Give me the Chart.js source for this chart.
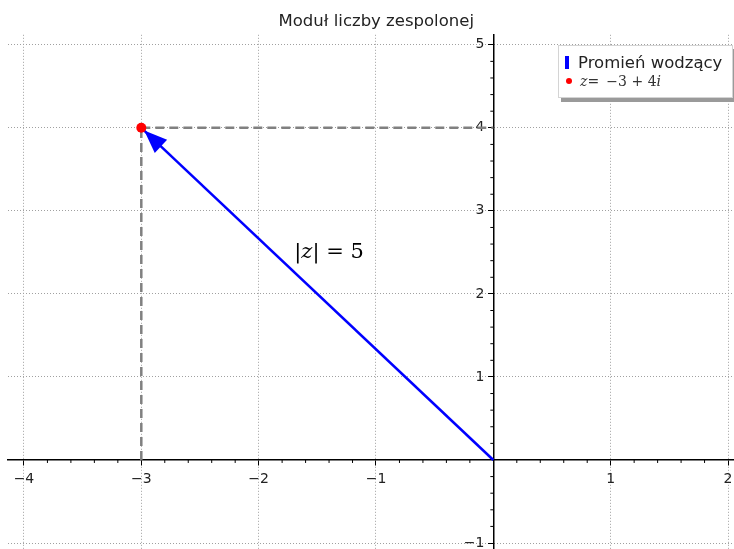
<!DOCTYPE html>
<html><head><meta charset="utf-8">
<script src="https://cdn.jsdelivr.net/npm/chart.js@4/dist/chart.umd.min.js"></script>
<style>
html,body{margin:0;padding:0;background:#fff;}
#wrap{position:relative;width:734px;height:549px;overflow:hidden;}
#legend{position:absolute;left:558px;top:45px;width:173px;height:51px;background:#fff;border:1px solid #d4d4d4;box-shadow:3px 4px 0 #9a9a9a;font-family:"DejaVu Sans",sans-serif;color:#222;}
#legend .r1{position:absolute;left:6px;top:7px;white-space:nowrap;font-size:16.5px;line-height:20px;}
#legend .sw{display:inline-block;width:4px;height:13px;background:#0000ff;vertical-align:-1px;margin-right:9px;}
#legend .r2{position:absolute;left:7px;top:26px;white-space:nowrap;font-size:14px;line-height:18px;font-family:"DejaVu Serif",serif;color:#333;}
#legend .dot{display:inline-block;width:6px;height:6px;border-radius:50%;background:#ff0000;margin-right:8px;vertical-align:2px;}
</style></head><body>
<div id="wrap"><canvas id="c" width="734" height="549"></canvas>
<div id="legend">
<div class="r1"><span class="sw"></span>Promień wodzący</div>
<div class="r2"><span class="dot"></span><i>z</i>= &thinsp;−3 + 4<i>i</i></div>
</div></div>
<script>
// ---- data ----
const vectorX = [0, -3];
const vectorY = [0, 4];
const dashVertX = [-3, -3];
const dashVertY = [0, 4];
const dashHorX = [-3, 0];
const dashHorY = [4, 4];
const pointX = [-3];
const pointY = [4];
const xTicks = [-4, -3, -2, -1, 0, 1, 2];
const yTicks = [-1, 0, 1, 2, 3, 4, 5];
const modulusLabelPos = [-1.4, 2.5];
const titleText = 'Moduł liczby zespolonej';

const zip = (xs, ys) => xs.map((v, i) => ({x: v, y: ys[i]}));
const fmt = v => v === 0 ? '' : (v < 0 ? '\u2212' + Math.abs(v) : String(v));

const minorTicks = {
  id: 'minorTicks',
  afterDatasetsDraw(chart) {
    const {ctx, scales: {x, y}} = chart;
    const x0 = x.getPixelForValue(0), y0 = y.getPixelForValue(0);
    ctx.save();
    ctx.strokeStyle = '#000';
    ctx.lineWidth = 1;
    for (let k = -45; k <= 25; k++) {
      if (k % 5 === 0) continue;
      const px = x.getPixelForValue(k / 5);
      if (px < x.left || px > x.right) continue;
      ctx.beginPath(); ctx.moveTo(px, y0); ctx.lineTo(px, y0 + 3); ctx.stroke();
    }
    for (let k = -10; k <= 30; k++) {
      if (k % 5 === 0) continue;
      const py = y.getPixelForValue(k / 5);
      if (py < y.top || py > y.bottom) continue;
      ctx.beginPath(); ctx.moveTo(x0, py); ctx.lineTo(x0 - 3, py); ctx.stroke();
    }
    ctx.restore();
  }
};

const arrowAndText = {
  id: 'arrowAndText',
  afterDatasetsDraw(chart) {
    const {ctx, scales: {x, y}} = chart;
    const p0 = {x: x.getPixelForValue(vectorX[0]), y: y.getPixelForValue(vectorY[0])};
    const p1 = {x: x.getPixelForValue(vectorX[1]), y: y.getPixelForValue(vectorY[1])};
    const dx = p1.x - p0.x, dy = p1.y - p0.y, L = Math.hypot(dx, dy);
    const ux = dx / L, uy = dy / L;
    const tip = {x: p1.x - ux * 4, y: p1.y - uy * 4};
    const base = {x: tip.x - ux * 23, y: tip.y - uy * 23};
    const hw = 9;
    ctx.save();
    ctx.fillStyle = '#0000ff';
    ctx.beginPath();
    ctx.moveTo(tip.x, tip.y);
    ctx.lineTo(base.x - uy * hw, base.y + ux * hw);
    ctx.lineTo(base.x + uy * hw, base.y - ux * hw);
    ctx.closePath();
    ctx.fill();
    // red point on top
    ctx.fillStyle = '#ff0000';
    ctx.beginPath();
    ctx.arc(x.getPixelForValue(pointX[0]), y.getPixelForValue(pointY[0]), 5, 0, Math.PI * 2);
    ctx.fill();
    // |z| = 5 label
    const cx = x.getPixelForValue(modulusLabelPos[0]);
    const cy = y.getPixelForValue(modulusLabelPos[1]);
    const parts = [['|', '21px "DejaVu Serif"'], ['z', 'italic 21px "DejaVu Serif"'], ['| = 5', '21px "DejaVu Serif"']];
    let total = 0;
    parts.forEach(p => { ctx.font = p[1]; total += ctx.measureText(p[0]).width; });
    let cur = cx - total / 2;
    ctx.fillStyle = '#000';
    ctx.textBaseline = 'middle';
    parts.forEach(p => { ctx.font = p[1]; ctx.fillText(p[0], cur, cy); cur += ctx.measureText(p[0]).width; });
    ctx.restore();
  }
};

const noPad = s => { s.paddingLeft = 0; s.paddingRight = 0; s.paddingTop = 0; s.paddingBottom = 0; };

new Chart(document.getElementById('c'), {
  type: 'scatter',
  data: {
    datasets: [
      {data: zip(dashVertX, dashVertY), showLine: true, borderColor: '#808080', borderWidth: 2.5, borderDash: [9, 5], pointRadius: 0},
      {data: zip(dashHorX, dashHorY), showLine: true, borderColor: '#808080', borderWidth: 2.5, borderDash: [9, 5], pointRadius: 0},
      {label: 'Promień wodzący', data: zip(vectorX, vectorY), showLine: true, borderColor: '#0000ff', borderWidth: 2.5, pointRadius: 0},
      {label: 'z = -3 + 4i', data: zip(pointX, pointY), pointRadius: 0, backgroundColor: '#ff0000'}
    ]
  },
  options: {
    responsive: false,
    animation: false,
    layout: {padding: {left: 8, right: 0, top: 0, bottom: 0}},
    plugins: {
      legend: {display: false},
      tooltip: {enabled: false},
      title: {display: true, text: '  ' + titleText, color: '#222', font: {family: 'DejaVu Sans', size: 16.5, weight: 'normal'}, padding: {top: 12, bottom: 3}}
    },
    scales: {
      x: {
        type: 'linear', min: -4.136, max: 2.051,
        position: {y: 0},
        afterFit: noPad,
        afterBuildTicks: s => { s.ticks = xTicks.map(v => ({value: v})); },
        ticks: {callback: fmt, color: '#222', font: {family: 'DejaVu Sans', size: 14}, padding: 6, maxRotation: 0, autoSkip: false},
        grid: {color: '#a0a0a0', lineWidth: 1, tickColor: '#000', tickLength: 5, drawTicks: true},
        border: {display: true, color: '#000', width: 1.5, dash: [1, 2], dashOffset: 0}
      },
      y: {
        type: 'linear', min: -1.072, max: 5.12,
        position: {x: 0},
        afterFit: noPad,
        afterBuildTicks: s => { s.ticks = yTicks.map(v => ({value: v})); },
        ticks: {callback: v => v === 0 ? '' : fmt(v) + '  ', color: '#222', font: {family: 'DejaVu Sans', size: 14}, padding: 4, autoSkip: false},
        grid: {color: '#a0a0a0', lineWidth: 1, tickColor: '#000', tickLength: 5, drawTicks: true},
        border: {display: true, color: '#000', width: 1.5, dash: [1, 2]}
      }
    }
  },
  plugins: [minorTicks, arrowAndText]
});
</script>
</body></html>
